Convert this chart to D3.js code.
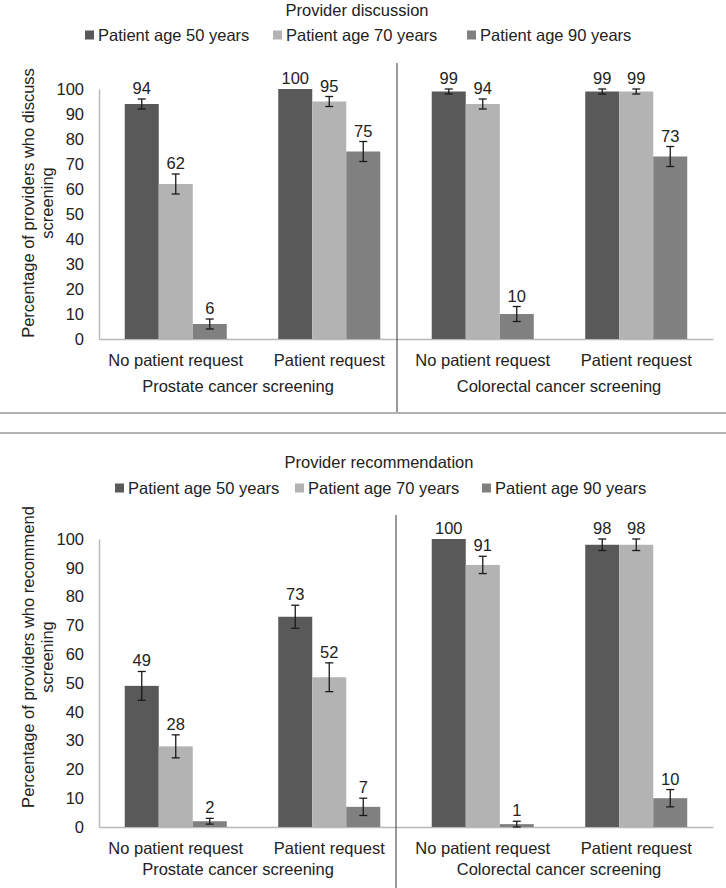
<!DOCTYPE html>
<html>
<head>
<meta charset="utf-8">
<script src="https://cdn.jsdelivr.net/npm/d3@7"></script>
<style>
  body { margin: 0; background: #fff; }
  svg { display: block; font-family: "Liberation Sans", Arial, sans-serif; }
</style>
</head>
<body>
<svg id="chart" width="726" height="888"></svg>
<script>
// Data
const series = ["Patient age 50 years", "Patient age 70 years", "Patient age 90 years"];
const requests = ["No patient request", "Patient request"];
const screenings = ["Prostate cancer screening", "Colorectal cancer screening"];
const yTicks = [0, 10, 20, 30, 40, 50, 60, 70, 80, 90, 100];

// values per group: prostate-no, prostate-req, colorectal-no, colorectal-req
const discussValues = [[94, 62, 6], [100, 95, 75], [99, 94, 10], [99, 99, 73]];
const discussErrors = [[2, 4, 2], [0, 2, 4], [1, 2, 3], [1, 1, 4]];
const recommendValues = [[49, 28, 2], [73, 52, 7], [100, 91, 1], [98, 98, 10]];
const recommendErrors = [[5, 4, 1], [4, 5, 3], [0, 3, 1], [2, 2, 3]];

const colors = ["#595959", "#b3b3b3", "#808080"];
const svg = d3.select("#chart");
const font = 16.5;

const groups = [];
screenings.forEach(s => requests.forEach(r => groups.push(s + "|" + r)));

const x0 = d3.scaleBand().domain(groups).range([99, 713]);
const x1 = d3.scaleBand().domain(series).range([0, x0.bandwidth()]).paddingOuter(0.757);
const color = d3.scaleOrdinal().domain(series).range(colors);

function drawPanel(cfg) {
  const y = d3.scaleLinear().domain([0, 100]).range([cfg.y0, cfg.y100]);
  const g = svg.append("g");

  // title
  g.append("text").attr("x", cfg.titleX).attr("y", cfg.titleY)
    .attr("text-anchor", "middle").attr("font-size", font).attr("fill", "#222")
    .text(cfg.title);

  // legend
  const leg = g.selectAll(".leg").data(series).enter().append("g")
    .attr("transform", (d, i) => `translate(${cfg.legendX[i]}, ${cfg.legendY})`);
  leg.append("rect").attr("x", 0).attr("y", -4.5).attr("width", 9).attr("height", 9)
    .attr("fill", d => color(d));
  leg.append("text").attr("x", 13).attr("y", 6).attr("font-size", font).attr("fill", "#222")
    .text(d => d);

  // y axis
  const yAxis = g.append("g").attr("transform", "translate(99,0)")
    .call(d3.axisLeft(y).tickValues(yTicks).tickSize(0).tickPadding(15));
  yAxis.select(".domain").attr("stroke", "#b8b8b8").attr("stroke-width", 1.5);
  yAxis.selectAll("text").attr("font-size", font).attr("fill", "#222")
    .attr("font-family", "Liberation Sans, Arial, sans-serif");

  // x axis line
  const xAxis = g.append("g").attr("transform", `translate(0,${cfg.y0})`)
    .call(d3.axisBottom(x0).tickSize(0).tickFormat(""));
  xAxis.select(".domain").attr("stroke", "#b8b8b8").attr("stroke-width", 1.5);

  // y axis title
  g.append("text")
    .attr("transform", `translate(${cfg.yTitleX}, ${cfg.yTitleY}) rotate(-90)`)
    .attr("text-anchor", "middle").attr("font-size", font).attr("fill", "#222")
    .selectAll("tspan").data(cfg.yTitle).enter().append("tspan")
    .attr("x", 0).attr("dy", (d, i) => i === 0 ? 0 : 19).text(d => d);

  // bars
  const data = [];
  groups.forEach((grp, gi) => series.forEach((s, si) => {
    data.push({ grp, s, v: cfg.values[gi][si], e: cfg.errors[gi][si] });
  }));

  const bars = g.selectAll(".bar").data(data).enter().append("g")
    .attr("transform", d => `translate(${x0(d.grp) + x1(d.s)},0)`);
  bars.append("rect")
    .attr("x", 0).attr("width", x1.bandwidth())
    .attr("y", d => y(d.v)).attr("height", d => y(0) - y(d.v))
    .attr("fill", d => color(d.s));

  // error bars
  const cx = x1.bandwidth() / 2;
  const err = bars.filter(d => d.e > 0).append("g").attr("stroke", "#1a1a1a").attr("stroke-width", 1.3);
  err.append("line").attr("x1", cx).attr("x2", cx)
    .attr("y1", d => y(d.v + d.e)).attr("y2", d => y(d.v - d.e));
  err.append("line").attr("x1", cx - 4).attr("x2", cx + 4)
    .attr("y1", d => y(d.v + d.e)).attr("y2", d => y(d.v + d.e));
  err.append("line").attr("x1", cx - 4).attr("x2", cx + 4)
    .attr("y1", d => y(d.v - d.e)).attr("y2", d => y(d.v - d.e));

  // value labels
  bars.append("text")
    .attr("x", cx).attr("y", d => y(d.v + d.e) - 5)
    .attr("text-anchor", "middle").attr("font-size", font).attr("fill", "#222")
    .text(d => d.v);

  // category labels
  g.selectAll(".cat").data(groups).enter().append("text")
    .attr("x", d => x0(d) + x0.bandwidth() / 2).attr("y", cfg.catY)
    .attr("text-anchor", "middle").attr("font-size", font).attr("fill", "#222")
    .text(d => d.split("|")[1]);

  // screening labels
  g.selectAll(".scr").data(screenings).enter().append("text")
    .attr("x", (d, i) => cfg.screenX[i]).attr("y", cfg.screenY)
    .attr("text-anchor", "middle").attr("font-size", font).attr("fill", "#222")
    .text(d => d);

  // section divider
  g.append("line").attr("x1", cfg.divX).attr("x2", cfg.divX)
    .attr("y1", cfg.divTop).attr("y2", cfg.divBottom)
    .attr("stroke", "#555").attr("stroke-width", 1.2);
}

drawPanel({
  title: "Provider discussion", titleX: 357, titleY: 16,
  legendX: [85, 273, 467], legendY: 35,
  y0: 339, y100: 89,
  yTitle: ["Percentage of providers who discuss", "screening"], yTitleX: 34, yTitleY: 203,
  values: discussValues, errors: discussErrors,
  catY: 366, screenX: [238, 559], screenY: 392,
  divX: 397, divTop: 63, divBottom: 412
});

drawPanel({
  title: "Provider recommendation", titleX: 379, titleY: 468,
  legendX: [115, 295, 482], legendY: 488,
  y0: 827, y100: 539,
  yTitle: ["Percentage of providers who recommend", "screening"], yTitleX: 34, yTitleY: 657,
  values: recommendValues, errors: recommendErrors,
  catY: 854, screenX: [238, 559], screenY: 875,
  divX: 396, divTop: 515, divBottom: 888
});

// panel separator lines
svg.selectAll(".sep").data([413, 433]).enter().append("line")
  .attr("x1", 0).attr("x2", 726).attr("y1", d => d).attr("y2", d => d)
  .attr("stroke", "#9a9a9a").attr("stroke-width", 1.5);
</script>
</body>
</html>
